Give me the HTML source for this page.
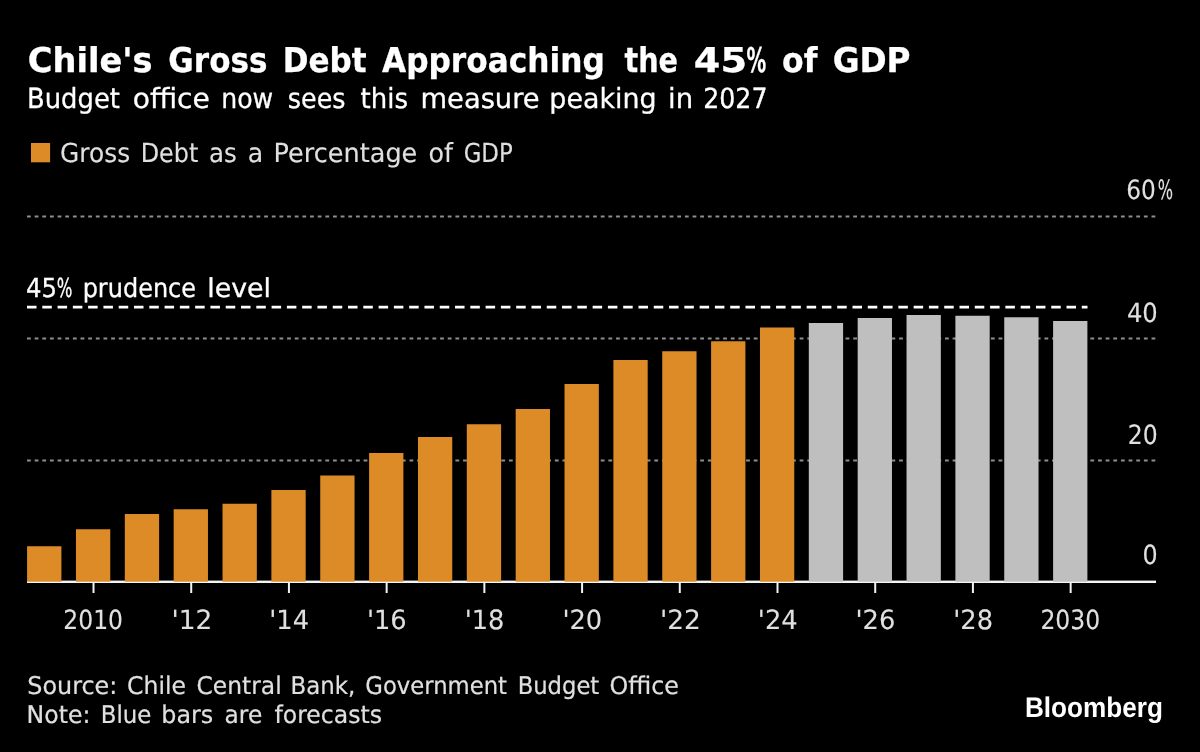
<!DOCTYPE html>
<html lang="en">
<head>
<meta charset="utf-8">
<title>Chile's Gross Debt Approaching the 45% of GDP</title>
<style>
html,body{margin:0;padding:0;background:#000;}
body{width:1200px;height:752px;overflow:hidden;}
svg{display:block;}
text{font-family:"DejaVu Sans","Liberation Sans",sans-serif;fill:#e0e0e0;text-rendering:geometricPrecision;}
text{stroke:#e0e0e0;stroke-width:0.3px;}
.title{font-weight:bold;font-size:34.2px;fill:#fff;stroke:#fff;stroke-width:0.3px;}
.sub{font-size:27.8px;fill:#fff;stroke:#fff;}
.lbl{font-size:26.5px;stroke-width:0.1px;}
.leg{font-size:26.2px;stroke-width:0.1px;}
.ann{font-size:26.2px;fill:#fff;stroke:#fff;}
.src{font-size:24.4px;stroke-width:0.2px;}
.logo{font-family:"Liberation Sans","DejaVu Sans",sans-serif;font-weight:bold;font-size:28.4px;fill:#fff;stroke:none;}
</style>
</head>
<body>
<svg width="1200" height="752" viewBox="0 0 1200 752">
<rect x="0" y="0" width="1200" height="752" fill="#000"/>
<g stroke="#8e8e8e" stroke-width="2" stroke-dasharray="3.8 3.85">
<line x1="27" x2="1156" y1="216.5" y2="216.5"/>
<line x1="27" x2="1156" y1="338.5" y2="338.5"/>
<line x1="27" x2="1156" y1="460.5" y2="460.5"/>
</g>
<rect x="27" y="580.6" width="1129" height="2.4" fill="#f4f4f4"/>
<rect x="27.10" y="546.25" width="34.3" height="35.45" fill="#dd8b27"/>
<rect x="75.96" y="529.25" width="34.3" height="52.45" fill="#dd8b27"/>
<rect x="124.81" y="514.00" width="34.3" height="67.70" fill="#dd8b27"/>
<rect x="173.67" y="509.25" width="34.3" height="72.45" fill="#dd8b27"/>
<rect x="222.53" y="503.75" width="34.3" height="77.95" fill="#dd8b27"/>
<rect x="271.38" y="490.00" width="34.3" height="91.70" fill="#dd8b27"/>
<rect x="320.24" y="475.50" width="34.3" height="106.20" fill="#dd8b27"/>
<rect x="369.10" y="453.00" width="34.3" height="128.70" fill="#dd8b27"/>
<rect x="417.96" y="437.00" width="34.3" height="144.70" fill="#dd8b27"/>
<rect x="466.81" y="424.25" width="34.3" height="157.45" fill="#dd8b27"/>
<rect x="515.67" y="409.00" width="34.3" height="172.70" fill="#dd8b27"/>
<rect x="564.53" y="384.00" width="34.3" height="197.70" fill="#dd8b27"/>
<rect x="613.38" y="360.00" width="34.3" height="221.70" fill="#dd8b27"/>
<rect x="662.24" y="351.25" width="34.3" height="230.45" fill="#dd8b27"/>
<rect x="711.10" y="341.25" width="34.3" height="240.45" fill="#dd8b27"/>
<rect x="759.96" y="327.50" width="34.3" height="254.20" fill="#dd8b27"/>
<rect x="808.81" y="323.00" width="34.3" height="258.70" fill="#bfbfbf"/>
<rect x="857.67" y="318.00" width="34.3" height="263.70" fill="#bfbfbf"/>
<rect x="906.53" y="315.00" width="34.3" height="266.70" fill="#bfbfbf"/>
<rect x="955.38" y="315.75" width="34.3" height="265.95" fill="#bfbfbf"/>
<rect x="1004.24" y="317.25" width="34.3" height="264.45" fill="#bfbfbf"/>
<rect x="1053.10" y="321.00" width="34.3" height="260.70" fill="#bfbfbf"/>
<line x1="27" x2="1087.5" y1="307.1" y2="307.1" stroke="#fff" stroke-width="2.8" stroke-dasharray="9.5 5.787"/>
<rect x="92.51" y="583" width="2" height="10" fill="#f2f2f2"/>
<rect x="190.22" y="583" width="2" height="10" fill="#f2f2f2"/>
<rect x="287.93" y="583" width="2" height="10" fill="#f2f2f2"/>
<rect x="385.65" y="583" width="2" height="10" fill="#f2f2f2"/>
<rect x="483.36" y="583" width="2" height="10" fill="#f2f2f2"/>
<rect x="581.08" y="583" width="2" height="10" fill="#f2f2f2"/>
<rect x="678.79" y="583" width="2" height="10" fill="#f2f2f2"/>
<rect x="776.50" y="583" width="2" height="10" fill="#f2f2f2"/>
<rect x="874.22" y="583" width="2" height="10" fill="#f2f2f2"/>
<rect x="971.93" y="583" width="2" height="10" fill="#f2f2f2"/>
<rect x="1069.65" y="583" width="2" height="10" fill="#f2f2f2"/>
<rect x="31" y="143" width="19.1" height="19.3" fill="#dd8b27"/>
<text class="title" y="72"><tspan x="27.77" textLength="124.81" lengthAdjust="spacingAndGlyphs">Chile's</tspan> <tspan x="168.34" textLength="99.13" lengthAdjust="spacingAndGlyphs">Gross</tspan> <tspan x="282.78" textLength="83.78" lengthAdjust="spacingAndGlyphs">Debt</tspan> <tspan x="382.00" textLength="222.76" lengthAdjust="spacingAndGlyphs">Approaching</tspan> <tspan x="624.50" textLength="53.49" lengthAdjust="spacingAndGlyphs">the</tspan> <tspan x="693.88" textLength="53.11" lengthAdjust="spacingAndGlyphs">45</tspan><tspan x="746.42" textLength="19.72" lengthAdjust="spacingAndGlyphs">%</tspan> <tspan x="782.08" textLength="35.38" lengthAdjust="spacingAndGlyphs">of</tspan> <tspan x="832.64" textLength="77.97" lengthAdjust="spacingAndGlyphs">GDP</tspan></text>
<text class="sub" y="108"><tspan x="27.04" textLength="92.86" lengthAdjust="spacingAndGlyphs">Budget</tspan> <tspan x="132.74" textLength="77.13" lengthAdjust="spacingAndGlyphs">office</tspan> <tspan x="221.19" textLength="51.98" lengthAdjust="spacingAndGlyphs">now</tspan> <tspan x="287.84" textLength="57.60" lengthAdjust="spacingAndGlyphs">sees</tspan> <tspan x="360.50" textLength="47.45" lengthAdjust="spacingAndGlyphs">this</tspan> <tspan x="420.54" textLength="119.05" lengthAdjust="spacingAndGlyphs">measure</tspan> <tspan x="549.37" textLength="107.22" lengthAdjust="spacingAndGlyphs">peaking</tspan> <tspan x="668.02" textLength="25.08" lengthAdjust="spacingAndGlyphs">in</tspan> <tspan x="703.18" textLength="64.35" lengthAdjust="spacingAndGlyphs">2027</tspan></text>
<text class="leg" y="162"><tspan x="60.05" textLength="70.06" lengthAdjust="spacingAndGlyphs">Gross</tspan> <tspan x="140.68" textLength="57.57" lengthAdjust="spacingAndGlyphs">Debt</tspan> <tspan x="209.06" textLength="27.79" lengthAdjust="spacingAndGlyphs">as</tspan> <tspan x="247.79" textLength="15.43" lengthAdjust="spacingAndGlyphs">a</tspan> <tspan x="273.55" textLength="143.79" lengthAdjust="spacingAndGlyphs">Percentage</tspan> <tspan x="428.53" textLength="24.46" lengthAdjust="spacingAndGlyphs">of</tspan> <tspan x="463.63" textLength="49.06" lengthAdjust="spacingAndGlyphs">GDP</tspan></text>
<text class="ann" y="297"><tspan x="26.07" textLength="30.97" lengthAdjust="spacingAndGlyphs">45</tspan><tspan x="56.87" textLength="15.69" lengthAdjust="spacingAndGlyphs">%</tspan> <tspan x="82.67" textLength="113.35" lengthAdjust="spacingAndGlyphs">prudence</tspan> <tspan x="207.20" textLength="63.89" lengthAdjust="spacingAndGlyphs">level</tspan></text>
<text class="src" y="694"><tspan x="27.22" textLength="90.15" lengthAdjust="spacingAndGlyphs">Source:</tspan> <tspan x="127.03" textLength="58.94" lengthAdjust="spacingAndGlyphs">Chile</tspan> <tspan x="196.54" textLength="85.16" lengthAdjust="spacingAndGlyphs">Central</tspan> <tspan x="290.62" textLength="64.77" lengthAdjust="spacingAndGlyphs">Bank,</tspan> <tspan x="365.32" textLength="141.71" lengthAdjust="spacingAndGlyphs">Government</tspan> <tspan x="517.64" textLength="81.64" lengthAdjust="spacingAndGlyphs">Budget</tspan> <tspan x="609.52" textLength="69.46" lengthAdjust="spacingAndGlyphs">Office</tspan></text>
<text class="src" y="723"><tspan x="26.57" textLength="63.78" lengthAdjust="spacingAndGlyphs">Note:</tspan> <tspan x="100.82" textLength="50.62" lengthAdjust="spacingAndGlyphs">Blue</tspan> <tspan x="161.30" textLength="51.89" lengthAdjust="spacingAndGlyphs">bars</tspan> <tspan x="224.55" textLength="37.67" lengthAdjust="spacingAndGlyphs">are</tspan> <tspan x="274.50" textLength="107.43" lengthAdjust="spacingAndGlyphs">forecasts</tspan></text>
<text class="logo" y="717"><tspan x="1024.88" textLength="138.06" lengthAdjust="spacingAndGlyphs">Bloomberg</tspan></text>
<text class="lbl" y="629"><tspan x="63.27" textLength="59.75" lengthAdjust="spacingAndGlyphs">2010</tspan></text>
<text class="lbl" y="629"><tspan x="171.48" textLength="40.85" lengthAdjust="spacingAndGlyphs">'12</tspan></text>
<text class="lbl" y="629"><tspan x="269.25" textLength="39.77" lengthAdjust="spacingAndGlyphs">'14</tspan></text>
<text class="lbl" y="629"><tspan x="366.96" textLength="39.77" lengthAdjust="spacingAndGlyphs">'16</tspan></text>
<text class="lbl" y="629"><tspan x="464.67" textLength="39.77" lengthAdjust="spacingAndGlyphs">'18</tspan></text>
<text class="lbl" y="629"><tspan x="562.39" textLength="39.77" lengthAdjust="spacingAndGlyphs">'20</tspan></text>
<text class="lbl" y="629"><tspan x="660.05" textLength="40.85" lengthAdjust="spacingAndGlyphs">'22</tspan></text>
<text class="lbl" y="629"><tspan x="757.82" textLength="39.77" lengthAdjust="spacingAndGlyphs">'24</tspan></text>
<text class="lbl" y="629"><tspan x="855.53" textLength="39.77" lengthAdjust="spacingAndGlyphs">'26</tspan></text>
<text class="lbl" y="629"><tspan x="953.24" textLength="39.77" lengthAdjust="spacingAndGlyphs">'28</tspan></text>
<text class="lbl" y="629"><tspan x="1040.41" textLength="59.75" lengthAdjust="spacingAndGlyphs">2030</tspan></text>
<text class="lbl" y="199"><tspan x="1126.32" textLength="29.63" lengthAdjust="spacingAndGlyphs">60</tspan><tspan x="1157.79" textLength="15.33" lengthAdjust="spacingAndGlyphs">%</tspan></text>
<text class="lbl" y="322"><tspan x="1126.88" textLength="30.90" lengthAdjust="spacingAndGlyphs">40</tspan></text>
<text class="lbl" y="444"><tspan x="1127.81" textLength="29.95" lengthAdjust="spacingAndGlyphs">20</tspan></text>
<text class="lbl" y="564"><tspan x="1142.60" textLength="15.17" lengthAdjust="spacingAndGlyphs">0</tspan></text>
</svg>
</body>
</html>
